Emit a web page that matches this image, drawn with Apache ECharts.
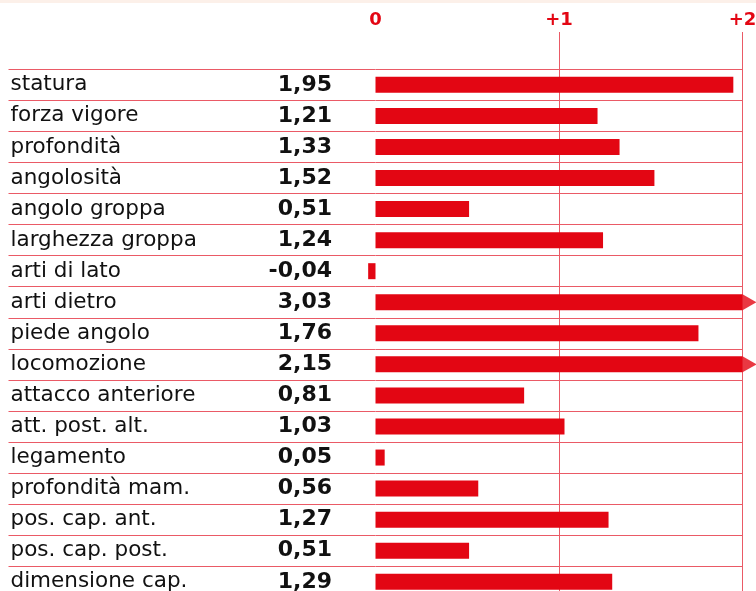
<!DOCTYPE html>
<html>
<head>
<meta charset="utf-8">
<script src="https://cdn.jsdelivr.net/npm/echarts@6/dist/echarts.min.js"></script>
<style>
  html, body { margin: 0; padding: 0; background: #ffffff; }
  #chart { width: 756px; height: 591px; }
</style>
</head>
<body>
<div id="chart"></div>
<script>
// Caratteri morfologici e relativi indici
const traits = [
  'statura', 'forza vigore', 'profondità', 'angolosità', 'angolo groppa',
  'larghezza groppa', 'arti di lato', 'arti dietro', 'piede angolo',
  'locomozione', 'attacco anteriore', 'att. post. alt.', 'legamento',
  'profondità mam.', 'pos. cap. ant.', 'pos. cap. post.', 'dimensione cap.'
];
const scores = [
  1.95, 1.21, 1.33, 1.52, 0.51, 1.24, -0.04, 3.03, 1.76,
  2.15, 0.81, 1.03, 0.05, 0.56, 1.27, 0.51, 1.29
];
// Scala orizzontale: etichette solo da 0 in su
const scaleMin = -2;
const scaleMax = 2;
const scaleStep = 1;

const RED = '#e30613';
const RULE = '#ea5a66';

const fmt = v => v.toFixed(2).replace('.', ',');
// Valori oltre il fondo scala: freccia sul bordo destro
const overflow = scores.map((v, i) => v > scaleMax ? [scaleMax, traits[i]] : null).filter(Boolean);

const chart = echarts.init(document.getElementById('chart'), null, { renderer: 'canvas' });

const rowH = 31.06;
const barsTop = 69.3;
const left = 8.5;
const right = 756 - 742.5;

chart.setOption({
  animation: false,
  backgroundColor: '#ffffff',
  graphic: [{
    type: 'rect', left: 0, top: 0, silent: true,
    shape: { width: 756, height: 3 },
    style: { fill: '#fcf0e9' }
  }],
  grid: [
    { left: left, right: right, top: barsTop, height: rowH * traits.length, containLabel: false, outerBoundsMode: 'none' },
    { left: left, right: right, top: 32, bottom: -10, containLabel: false, outerBoundsMode: 'none' }
  ],
  xAxis: [
    {
      gridIndex: 0, type: 'value', min: scaleMin, max: scaleMax, interval: scaleStep,
      show: false
    },
    {
      gridIndex: 1, type: 'value', position: 'top', min: scaleMin, max: scaleMax, interval: scaleStep,
      axisLine: { show: false }, axisTick: { show: false },
      axisLabel: {
        margin: 3,
        color: RED, fontFamily: 'DejaVu Sans', fontWeight: 'bold', fontSize: 18,
        formatter: v => v < 0 ? '' : (v > 0 ? '+' + v : String(v))
      },
      splitLine: {
        show: true,
        showMinLine: false,
        lineStyle: {
          width: 1,
          color: ['rgba(0,0,0,0)', 'rgba(0,0,0,0)', RULE, RULE, RULE]
        }
      }
    }
  ],
  yAxis: [
    {
      gridIndex: 0, type: 'category', data: traits, inverse: true,
      axisLine: { show: false }, axisTick: { show: false },
      axisLabel: {
        inside: true, margin: 2, interval: 0,
        color: '#111111', fontFamily: 'DejaVu Sans', fontSize: 21.5
      },
      splitLine: { show: true, interval: 0, lineStyle: { color: RULE, width: 1 } }
    },
    {
      gridIndex: 0, type: 'category', data: scores.map(fmt), inverse: true,
      position: 'left', offset: -(332 - left + 8),
      axisLine: { show: false }, axisTick: { show: false },
      axisLabel: {
        margin: 8, interval: 0, align: 'right',
        color: '#111111', fontFamily: 'DejaVu Sans', fontWeight: 'bold', fontSize: 22
      },
      splitLine: { show: false }
    },
    {
      gridIndex: 1, type: 'value', show: false
    }
  ],
  series: [
    {
      type: 'bar', xAxisIndex: 0, yAxisIndex: 0,
      data: scores, barWidth: 16, clip: true,
      itemStyle: { color: RED },
      silent: true
    },
    {
      type: 'scatter', xAxisIndex: 0, yAxisIndex: 0,
      data: overflow, clip: false,
      symbol: 'triangle', symbolSize: [16, 14], symbolRotate: -90,
      symbolOffset: [7, 0],
      itemStyle: { color: RED },
      silent: true
    }
  ]
});
</script>
</body>
</html>
